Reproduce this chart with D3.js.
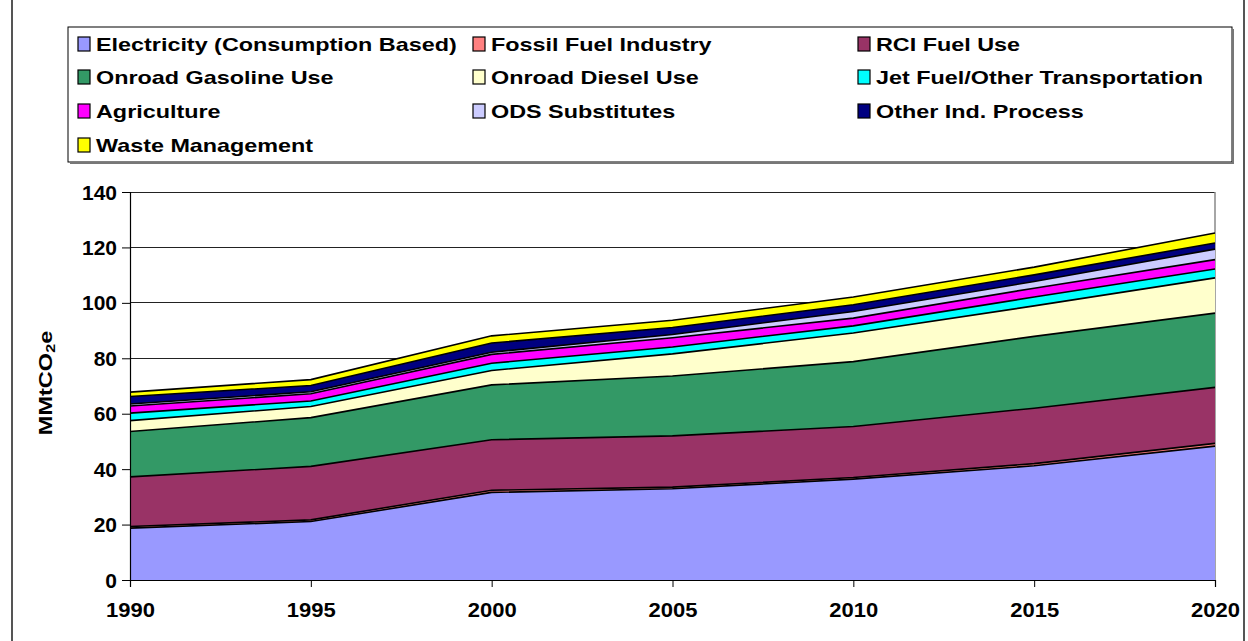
<!DOCTYPE html>
<html><head><meta charset="utf-8">
<script src="https://cdn.jsdelivr.net/npm/d3@7"></script>
<style>
body{margin:0;background:#fff}
svg{display:block}
text{font-family:"Liberation Sans",Arial,sans-serif;font-weight:bold;fill:#000}
</style>
</head><body>
<svg id="chart" width="1248" height="641"></svg>
<script>
// ---- data ----
const years = [1990, 1995, 2000, 2005, 2010, 2015, 2020];
const seriesNames = ["Electricity (Consumption Based)", "Fossil Fuel Industry", "RCI Fuel Use",
  "Onroad Gasoline Use", "Onroad Diesel Use", "Jet Fuel/Other Transportation",
  "Agriculture", "ODS Substitutes", "Other Ind. Process", "Waste Management"];
const electricity = [18.7, 21.1, 31.6, 32.9, 36.4, 41.2, 48.3];
const fossilFuel  = [0.6, 0.6, 0.8, 0.6, 0.6, 0.8, 1.0];
const rciFuel     = [17.9, 19.3, 18.2, 18.5, 18.4, 20.0, 20.2];
const gasoline    = [16.4, 17.6, 19.8, 21.6, 23.4, 25.9, 26.8];
const diesel      = [3.9, 4.0, 5.2, 8.0, 10.3, 11.0, 12.7];
const jetFuel     = [2.7, 2.0, 2.6, 2.5, 2.6, 3.2, 3.2];
const agriculture = [2.6, 2.6, 3.2, 3.3, 2.8, 3.2, 3.4];
const odsSubs     = [0.7, 0.7, 0.8, 1.2, 2.4, 2.4, 3.8];
const otherInd    = [2.7, 2.3, 3.3, 2.5, 2.4, 2.4, 2.2];
const waste       = [1.6, 2.1, 2.6, 2.6, 2.8, 2.8, 3.6];
const yTicks = [0, 20, 40, 60, 80, 100, 120, 140];
const yLabel = "MMtCO";
const colors = ["#9999FF", "#FF8080", "#993366", "#339966", "#FFFFCC", "#00FFFF",
  "#FF00FF", "#CCCCFF", "#000080", "#FFFF00"];

const seriesValues = [electricity, fossilFuel, rciFuel, gasoline, diesel, jetFuel,
  agriculture, odsSubs, otherInd, waste];

const table = years.map((y, i) => {
  const row = {year: y};
  seriesNames.forEach((n, k) => row[n] = seriesValues[k][i]);
  return row;
});

const svg = d3.select("#chart");

// outer frame
svg.append("rect").attr("x", 12).attr("y", -4).attr("width", 1232).attr("height", 700)
  .attr("fill", "none").attr("stroke", "#555").attr("stroke-width", 2);

const x = d3.scaleLinear().domain([1990, 2020]).range([130, 1215]);
const y = d3.scaleLinear().domain([0, 140]).range([580, 192]);

// gridlines
svg.append("g").selectAll("line").data(yTicks.filter(t => t > 0)).join("line")
  .attr("x1", 130).attr("x2", 1215)
  .attr("y1", d => y(d)).attr("y2", d => y(d))
  .attr("stroke", "#222").attr("stroke-width", 1).attr("shape-rendering", "crispEdges");
// plot right border
svg.append("line").attr("x1", 1215).attr("x2", 1215).attr("y1", 192).attr("y2", 580)
  .attr("stroke", "#888").attr("stroke-width", 1.5);

const stack = d3.stack().keys(seriesNames);
const layers = stack(table);

const area = d3.area().x(d => x(d.data.year)).y0(d => y(d[0])).y1(d => y(d[1]));
const topLine = d3.line().x(d => x(d.data.year)).y(d => y(d[1]));

svg.append("g").selectAll("path").data(layers).join("path")
  .attr("d", area).attr("fill", (d, i) => colors[i]);
svg.append("g").selectAll("path").data(layers).join("path")
  .attr("d", topLine).attr("fill", "none").attr("stroke", "#000").attr("stroke-width", 1.6);

// axes
const yAxis = d3.axisLeft(y).tickValues(yTicks).tickSize(8).tickPadding(5);
const gy = svg.append("g").attr("transform", "translate(130,0)").call(yAxis);
gy.select(".domain").attr("stroke", "#000").attr("stroke-width", 1.2);
gy.selectAll(".tick line").attr("stroke", "#000");
gy.selectAll(".tick text").style("font-size", "20px").attr("fill", "#000")
  .attr("x", null).attr("dy", null)
  .attr("transform", "translate(-13,7) scale(1.05,1)");

const xAxis = d3.axisBottom(x).tickValues(years).tickFormat(d3.format("d")).tickSize(7).tickPadding(12);
const gx = svg.append("g").attr("transform", "translate(0,580)").call(xAxis);
gx.select(".domain").attr("stroke", "#000").attr("stroke-width", 1.2);
gx.selectAll(".tick line").attr("stroke", "#000");
gx.selectAll(".tick text").style("font-size", "20px").attr("fill", "#000")
  .attr("y", null).attr("dy", null).attr("text-anchor", "middle")
  .attr("transform", "translate(0,37) scale(1.1,1)");

// y-axis title
const yt = svg.append("text").attr("transform", "translate(52,383) rotate(-90) scale(1.24,1)")
  .attr("text-anchor", "middle").style("font-size", "19px");
yt.append("tspan").text(yLabel);
yt.append("tspan").text("2").style("font-size", "13px").attr("dy", 3);
yt.append("tspan").text("e").attr("dy", -3);

// legend
svg.append("rect").attr("x", 68).attr("y", 27).attr("width", 1164).attr("height", 135)
  .attr("fill", "#fff").attr("stroke", "#000").attr("stroke-width", 1);
svg.append("line").attr("x1", 70).attr("x2", 1234).attr("y1", 163).attr("y2", 163)
  .attr("stroke", "#777").attr("stroke-width", 2);
svg.append("line").attr("x1", 1233).attr("x2", 1233).attr("y1", 29).attr("y2", 164)
  .attr("stroke", "#777").attr("stroke-width", 2);

const colX = [78, 473, 858];
const rowY = [44, 77, 111, 145];
const lg = svg.append("g").selectAll("g").data(seriesNames).join("g")
  .attr("transform", (d, i) => `translate(${colX[i % 3]},${rowY[Math.floor(i / 3)]})`);
lg.append("rect").attr("x", 0).attr("y", -7).attr("width", 12).attr("height", 14)
  .attr("fill", (d, i) => colors[i]).attr("stroke", "#000").attr("stroke-width", 1.2);
lg.append("text").attr("transform", "translate(18,7) scale(1.23,1)")
  .style("font-size", "19px").text(d => d);
</script>
</body></html>
